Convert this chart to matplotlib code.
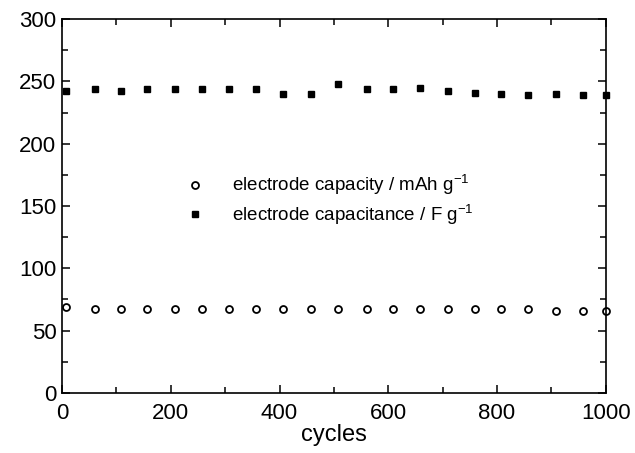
import matplotlib.pyplot as plt
from matplotlib.ticker import MultipleLocator

plt.rcParams['font.family'] = ['Liberation Sans', 'DejaVu Sans']
plt.rcParams['mathtext.default'] = 'regular'

# cycle numbers
cycles = [7, 60, 108, 157, 208, 257, 307, 357, 407, 458, 508,
          560, 609, 658, 709, 759, 808, 857, 909, 958, 1000]
# electrode capacity, mAh/g
capacity = [69, 67, 67, 67, 67, 67, 67, 67, 67, 67, 67,
            67, 67, 67, 67, 67, 67, 67, 66, 66, 66]
# electrode capacitance, F/g
capacitance = [242, 244, 242, 244, 244, 244, 244, 244, 240, 240, 248,
               244, 244, 245, 242, 241, 240, 239, 240, 239, 239]

fig = plt.figure(figsize=(6.35, 4.53), dpi=100)
ax = fig.add_axes([0.0976, 0.1325, 0.8564, 0.8255])

ax.plot(cycles, capacity, 'o', ms=5, mfc='white', mec='black', mew=1.3,
        clip_on=False, label='electrode capacity / mAh g$^{-1}$')
ax.plot(cycles, capacitance, 's', ms=5, mfc='black', mec='black',
        clip_on=False, label='electrode capacitance / F g$^{-1}$')

ax.set_xlim(0, 1000)
ax.set_ylim(0, 300)
ax.xaxis.set_major_locator(MultipleLocator(200))
ax.xaxis.set_minor_locator(MultipleLocator(100))
ax.yaxis.set_major_locator(MultipleLocator(50))
ax.yaxis.set_minor_locator(MultipleLocator(25))
ax.tick_params(which='both', direction='in', top=True, right=True,
               labelsize=16, width=1.1)
ax.tick_params(axis='x', pad=7)
ax.tick_params(axis='y', pad=4)
ax.tick_params(which='major', length=6)
ax.tick_params(which='minor', length=4)
for s in ax.spines.values():
    s.set_linewidth(1.2)

ax.set_xlabel('cycles', fontsize=17, labelpad=0)

ax.legend(loc='center left', bbox_to_anchor=(0.21, 0.516), frameon=False,
          fontsize=13.5, borderpad=0, borderaxespad=0, handletextpad=1.0,
          labelspacing=0.3, numpoints=1)

fig.savefig('out.png', dpi=100)
